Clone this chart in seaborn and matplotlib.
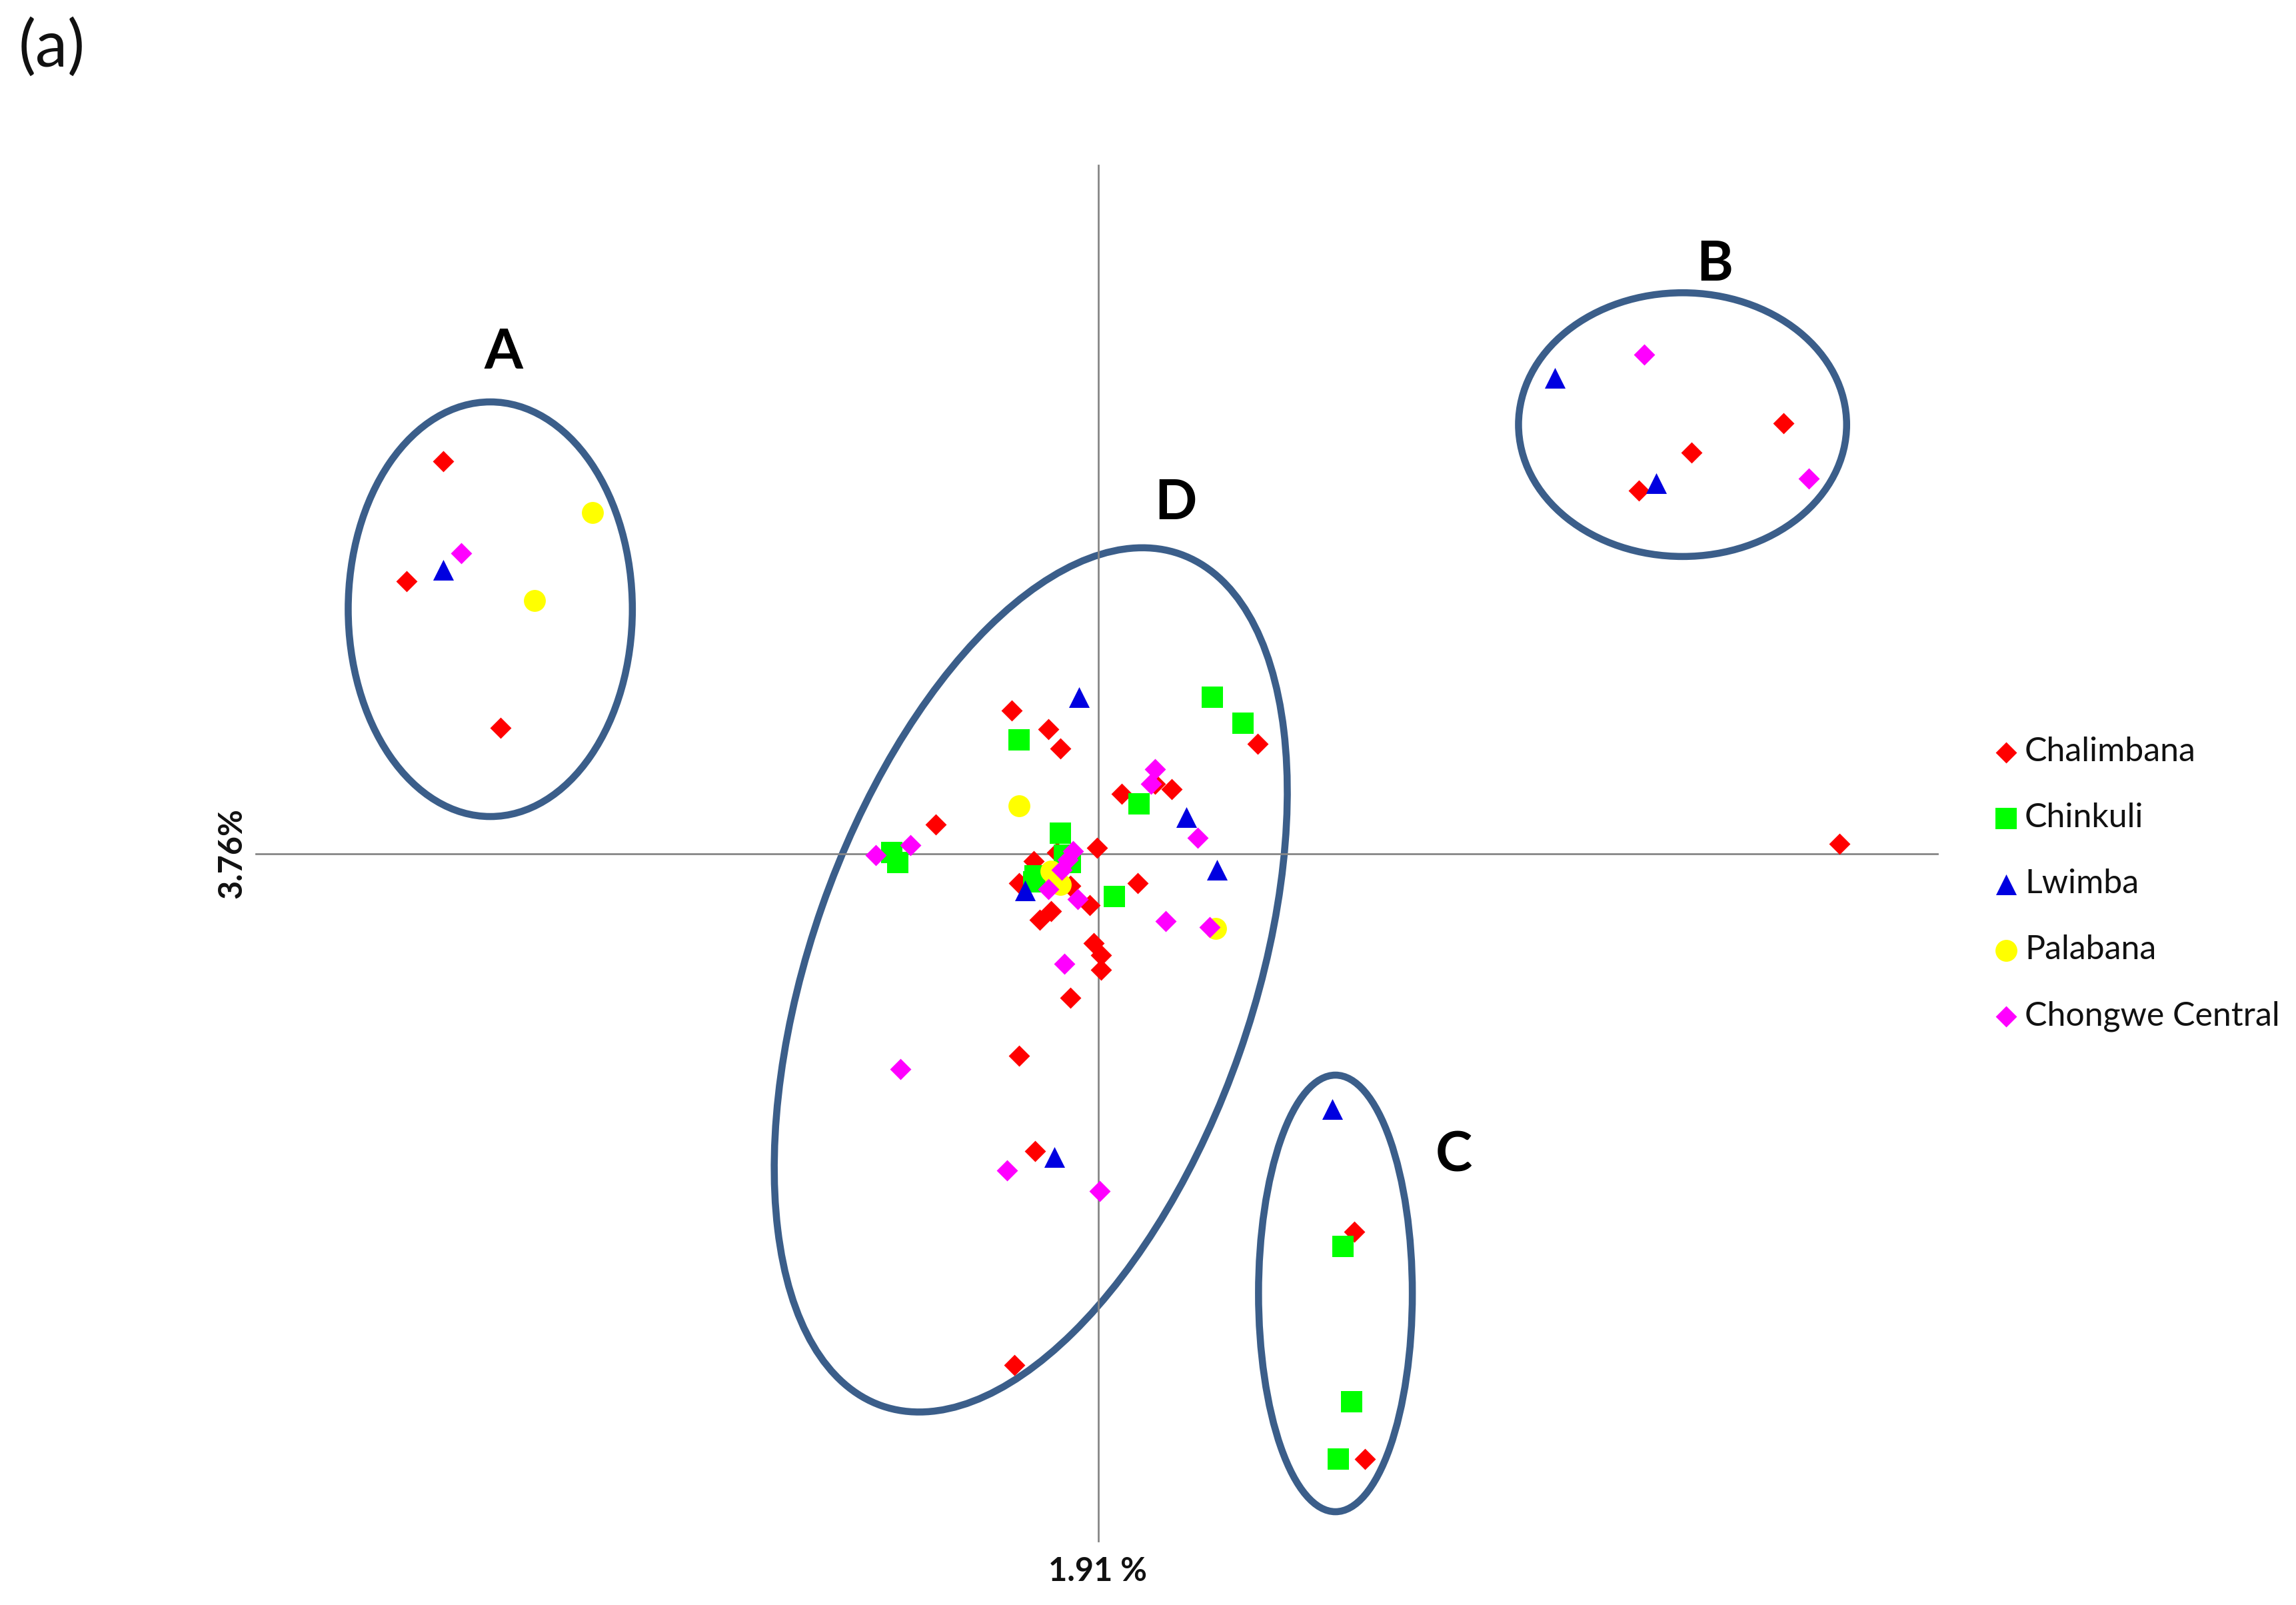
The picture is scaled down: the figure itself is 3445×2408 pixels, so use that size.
import seaborn as sns
import matplotlib.pyplot as plt
from matplotlib.patches import Ellipse
import pandas as pd

sns.set_theme(style="white")
plt.rcParams['font.family'] = ['Lato', 'DejaVu Sans']

# =====================
# DATA (axis units, origin where the two axes cross)
# =====================
chalimbana_x = [-4.47, -4.72, -4.08, 4.68, 4.05, 3.69, 5.06, 1.75, 1.82, -0.59, -0.34, -0.26, 1.09,
                0.16, 0.39, 0.50, -1.11, -0.01, -0.28, -0.44, -0.54, -0.19, -0.06, -0.40, -0.32,
                0.27, -0.03, 0.02, 0.02, -0.19, -0.54, -0.43, -0.57]
chalimbana_y = [2.68, 1.86, 0.86, 2.94, 2.74, 2.48, 0.07, -2.58, -4.13, 0.98, 0.85, 0.72, 0.75,
                0.41, 0.48, 0.44, 0.20, 0.04, 0.01, -0.05, -0.20, -0.22, -0.35, -0.45, -0.39,
                -0.20, -0.61, -0.69, -0.79, -0.98, -1.38, -2.03, -3.49]

chinkuli_x = [1.67, 1.73, 1.64, 0.78, 0.99, -0.54, 0.28, -0.26, 0.11, -1.41, -1.37, -0.43, -0.44, -0.19, -0.23]
chinkuli_y = [-2.68, -3.74, -4.13, 1.07, 0.89, 0.78, 0.34, 0.14, -0.29, 0.01, -0.06, -0.15, -0.19, -0.06, -0.01]

lwimba_x = [-4.47, 3.12, 3.81, -0.13, 0.60, 0.81, -0.50, 1.60, -0.30]
lwimba_y = [1.94, 3.25, 2.53, 1.07, 0.25, -0.11, -0.25, -1.74, -2.07]

palabana_x = [-3.45, -3.85, -0.54, 0.80, -0.32, -0.26, -0.29]
palabana_y = [2.33, 1.73, 0.33, -0.51, -0.12, -0.21, -0.17]

chongwe_x = [-4.35, 3.73, 4.85, 0.39, 0.36, 0.68, -1.52, -1.28, -0.17, -0.21, -0.25, -0.34, -0.14,
             0.46, -0.23, 0.76, -1.35, -0.62, 0.01]
chongwe_y = [2.05, 3.41, 2.56, 0.58, 0.48, 0.11, -0.01, 0.06, 0.02, -0.04, -0.11, -0.24, -0.31,
             -0.46, -0.75, -0.50, -1.47, -2.16, -2.30]

series_names = ['Chalimbana', 'Chinkuli', 'Lwimba', 'Palabana', 'Chongwe Central']
series_colors = ['#FF0000', '#00FF00', '#0000E0', '#FFFF00', '#FF00FF']
series_markers = ['D', 's', '^', 'o', 'D']
series_sizes = [66, 125, 125, 140, 66]

group_names = ['A', 'B', 'C', 'D']
group_x = [-4.15, 3.99, 1.62, -0.46]
group_y = [1.67, 2.93, -3.00, -0.86]
group_w = [1.94, 2.24, 1.05, 6.16]
group_h = [2.83, 1.80, 2.98, 3.02]
group_angle = [0, 0, 0, 70.7]
group_label_x = [-4.06, 4.21, 2.43, 0.53]
group_label_y = [3.42, 4.02, -2.06, 2.39]

x_label = '1.91 %'
y_label = '3.76%'

# =====================
# PLOT
# =====================
W, H = 3445, 2408
fig = plt.figure(figsize=(W / 200, H / 200), dpi=200)
ax = fig.add_axes([384 / W, 1 - 2312 / H, 2523 / W, 2064 / H])

frames = [
    pd.DataFrame({'x': chalimbana_x, 'y': chalimbana_y}),
    pd.DataFrame({'x': chinkuli_x, 'y': chinkuli_y}),
    pd.DataFrame({'x': lwimba_x, 'y': lwimba_y}),
    pd.DataFrame({'x': palabana_x, 'y': palabana_y}),
    pd.DataFrame({'x': chongwe_x, 'y': chongwe_y}),
]
for df, name, col, mk, sz in zip(frames, series_names, series_colors, series_markers, series_sizes):
    sns.scatterplot(data=df, x='x', y='y', color=col, marker=mk, s=sz, linewidth=0,
                    label=name, ax=ax, zorder=3, clip_on=False)

ax.set_xlim(-5.75, 5.73)
ax.set_ylim(-4.69, 4.70)
ax.set_xticks([])
ax.set_yticks([])
ax.set_xlabel('')
ax.set_ylabel('')
for side in ['top', 'right']:
    ax.spines[side].set_visible(False)
for side in ['left', 'bottom']:
    ax.spines[side].set_position('zero')
    ax.spines[side].set_color('#868686')
    ax.spines[side].set_linewidth(1.0)

for i in range(len(group_names)):
    ax.add_patch(Ellipse((group_x[i], group_y[i]), group_w[i], group_h[i], angle=group_angle[i],
                         fill=False, edgecolor='#3B5E8A', linewidth=3.8, zorder=2, clip_on=False))
    ax.text(group_label_x[i], group_label_y[i], group_names[i], fontsize=30, fontweight='bold',
            color='black', ha='center', va='center')

leg = ax.legend(loc='upper left', bbox_to_anchor=(2985 / W, 1 - 1105 / H), bbox_transform=fig.transFigure,
                frameon=False, fontsize=18, labelspacing=1.06, handlelength=1.0, handletextpad=0.06,
                borderpad=0, borderaxespad=0)
for t in leg.get_texts():
    t.set_color('#111111')

fig.text(1647 / W, 1 - 2358 / H, x_label, fontsize=17.5, fontweight='bold', color='#111111', ha='center', va='center')
fig.text(348 / W, 1 - 1280 / H, y_label, fontsize=17.5, fontweight='bold', color='#111111', rotation=90,
         ha='center', va='center')
fig.text(28 / W, 1 - 72 / H, '(a)', fontsize=35, color='#111111', ha='left', va='center')

fig.savefig('out.png', dpi=200)
